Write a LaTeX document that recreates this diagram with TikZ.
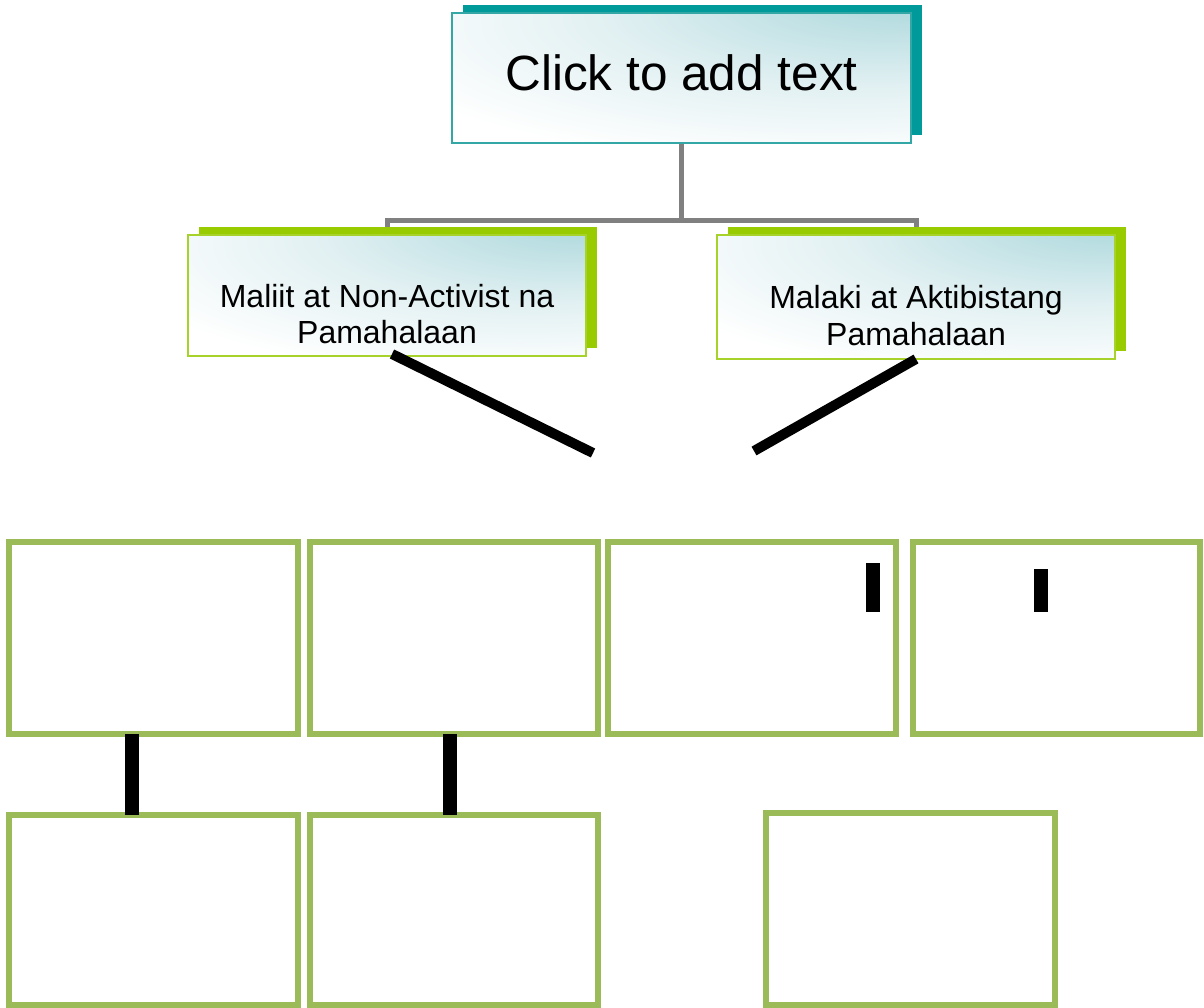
\documentclass[tikz,border=0pt]{standalone}
\usepackage{fontspec}
\setmainfont{Liberation Sans}
\usetikzlibrary{calc}
\definecolor{tealS}{HTML}{009A9A}
\definecolor{tealB}{HTML}{33A6A6}
\definecolor{tealL}{HTML}{B5DCE0}
\definecolor{tealM}{HTML}{E1F0F2}
\definecolor{greenS}{HTML}{99CC00}
\definecolor{greenB}{HTML}{A6D22A}
\definecolor{boxG}{HTML}{9BBB59}
\definecolor{connG}{HTML}{808080}
\pgfdeclareradialshading{boxshade}{\pgfpoint{28bp}{35bp}}{color(0bp)=(tealL); color(8bp)=(tealL); color(28bp)=(tealM); color(50bp)=(white); color(100bp)=(white)}
\pgfdeclarelayer{background}
\pgfsetlayers{background,main}
\begin{document}
\begin{tikzpicture}[x=1pt,y=-1pt,
  headbox/.style={shape=rectangle, draw=tealB, line width=1.5pt, shading=boxshade,
    minimum width=459pt, minimum height=130pt, inner sep=0pt, outer sep=0pt,
    font=\fontsize{49.5}{58}\selectfont, text height=35pt, text depth=9pt},
  childbox/.style={shape=rectangle, draw=greenB, line width=1.5pt, shading=boxshade,
    minimum width=398pt, inner sep=0pt, outer sep=0pt, align=center,
    font=\fontsize{32}{36.5}\selectfont, text height=96pt, text depth=0pt},
  emptybox/.style={shape=rectangle, draw=boxG, line width=6pt, fill=white,
    minimum width=288pt, minimum height=192pt, inner sep=0pt, outer sep=0pt},
  treeline/.style={draw=connG, line width=5pt},
  headshadow/.style={fill=tealS},
  childshadow/.style={fill=greenS},
  diag/.style={draw=black, line width=10pt},
  vbar/.style={draw=black, line width=14pt}]
\useasboundingbox (0,0) rectangle (1204,1008);

% header and level-1 boxes
\node[headbox] (top) at (681.5,78) {Click to add text};
\node[childbox, minimum height=121pt] (lft) at (387,295.5) {Maliit at Non-Activist na\\Pamahalaan};
\node[childbox, minimum height=124pt] (rgt) at (916,297) {Malaki at Aktibistang\\Pamahalaan};

\begin{pgfonlayer}{background}
  \draw[treeline] (top.south) -- ++(0,78) coordinate (hub);
  \draw[treeline] (hub) -| (lft.north);
  \draw[treeline] (hub) -| (rgt.north);
  \fill[headshadow] ([shift={(10.5pt,8pt)}]top.south west) rectangle ([shift={(10.5pt,8pt)}]top.north east);
  \fill[childshadow] ([shift={(10.5pt,8pt)}]lft.south west) rectangle ([shift={(10.5pt,8pt)}]lft.north east);
  \fill[childshadow] ([shift={(10.5pt,8pt)}]rgt.south west) rectangle ([shift={(10.5pt,8pt)}]rgt.north east);
\end{pgfonlayer}

% black diagonal strokes
\coordinate (le) at (593,453);
\coordinate (re) at (754,451);
\draw[diag] ($(lft.south)+(5,-2)$) -- (le);
\draw[diag] (rgt.south) -- (re);

% empty boxes
\node[emptybox, minimum width=289pt] (b1) at (153.5,638) {};
\node[emptybox] (b2) at (454,638) {};
\node[emptybox] (b3) at (752,638) {};
\node[emptybox, minimum width=287pt] (b4) at (1056.5,638) {};
\node[emptybox, minimum width=289pt, minimum height=190pt] (c1) at (153.5,910) {};
\node[emptybox, minimum height=190pt] (c2) at (454,910) {};
\node[emptybox, minimum width=289pt] (c3) at (910.5,909) {};

% vertical bars
\draw[vbar] ([xshift=-21.5pt]b1.south) -- ([xshift=-21.5pt]c1.north);
\draw[vbar] ([xshift=-4.5pt]b2.south) -- ([xshift=-4.5pt]c2.north);
\coordinate (t1a) at (873,563);
\coordinate (t1b) at (873,612);
\coordinate (t2a) at (1041,569);
\coordinate (t2b) at (1041,612);
\draw[vbar] (t1a) -- (t1b);
\draw[vbar] (t2a) -- (t2b);
\end{tikzpicture}
\end{document}
